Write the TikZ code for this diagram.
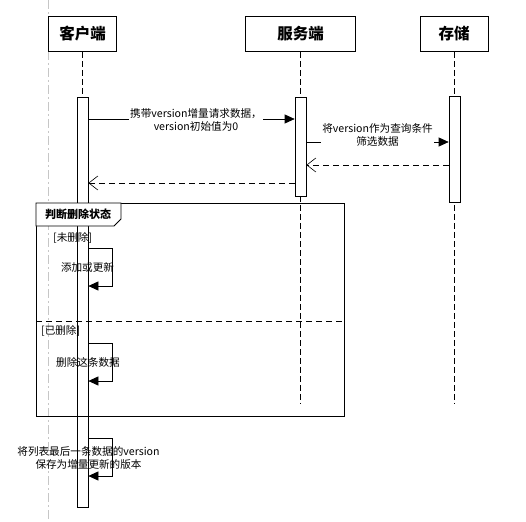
\documentclass[tikz,border=0pt]{standalone}
\usepackage{fontspec}
\setmainfont{Noto Sans CJK SC}
\usetikzlibrary{arrows.meta}
\tikzset{
  actorbox/.style={draw, line width=0.9pt, minimum height=35pt, inner sep=0pt, font=\bfseries\fontsize{15.5}{17}\selectfont},
  actbar/.style={draw, fill=white, line width=0.7pt, minimum width=11pt, inner sep=0pt},
  lifeline/.style={line width=0.6pt, dash pattern=on 6pt off 3pt},
  msg/.style={line width=0.7pt, -{Triangle[length=10pt,width=9pt]}},
  ret/.style={line width=0.6pt, dash pattern=on 6pt off 4pt, -{Straight Barb[length=9pt,width=14pt,line width=0.6pt]}},
  lbl/.style={fill=white, inner sep=1pt, align=center, font=\fontsize{10.6}{13}\selectfont},
  guard/.style={inner sep=0pt, font=\fontsize{10.6}{12}\selectfont},
}
\begin{document}
\begin{tikzpicture}[x=1pt,y=-1pt]
\useasboundingbox (0,0) rectangle (526,521);
% light guide line
\draw[gray!45, line width=0.6pt, dash pattern=on 9pt off 3pt on 2pt off 3pt] (48.5,0) coordinate (g1) -- (48.5,521) coordinate (g2);

% actor boxes
\node[actorbox, minimum width=68pt] (client) at (82.5,34) {客户端};
\node[actorbox, minimum width=110pt] (server) at (300.5,34) {服务端};
\node[actorbox, minimum width=68pt] (store) at (454,34) {存储};

% lifelines
\coordinate (cend) at (82.5,508);
\coordinate (send) at (300.5,404);
\coordinate (tend) at (454,404);
\draw[lifeline] (client.south) -- (cend);
\draw[lifeline] (server.south) -- (send);
\draw[lifeline] (store.south) -- (tend);

% activation bars
\node[actbar, minimum height=410pt] (ca) at (82.5,302) {};
\node[actbar, minimum height=99pt] (sa2) at (300.5,146.5) {};
\node[actbar, minimum height=106pt] (ta) at (454.5,149) {};

% frame
\draw[line width=0.8pt] (36,203) coordinate (fa) rectangle (344,416) coordinate (fb);
\draw[line width=0.8pt, fill=white] (36,203) -- (121,203) -- (121,219) -- (114,226) -- (36,226) -- cycle;
\node[inner sep=0pt, font=\bfseries\fontsize{11}{12}\selectfont] (ftitle) at (78,214.5) {判断删除状态};
\draw[line width=0.7pt, dash pattern=on 6pt off 4pt] (36,321) coordinate (sa) -- (344,321) coordinate (sb);
\node[guard, anchor=west] (g1t) at (53,238) {[未删除]};
\node[guard, anchor=west] (g2t) at (41,331) {[已删除]};

% messages
\draw[msg] (ca.east |- 0,119) -- (sa2.west |- 0,119);
\node[lbl] (m1) at (196,119.5) {携带version增量请求数据，\\version初始值为0};
\draw[msg] (sa2.east |- 0,142) -- (ta.west |- 0,142);
\node[lbl] (m2) at (377.5,135) {将version作为查询条件\\筛选数据};
\draw[ret] (ta.west |- 0,165) -- (sa2.east |- 0,165);
\draw[ret] (sa2.west |- 0,183) -- (ca.east |- 0,183);

% self messages
\coordinate (s1a) at (112,248);
\coordinate (s1b) at (112,286);
\draw[msg] (ca.east |- s1a) -- (s1a) -- (s1b) -- (ca.east |- s1b);
\node[lbl, fill=none] (m3) at (87.5,267) {添加或更新};

\coordinate (s2a) at (112,343);
\coordinate (s2b) at (112,381);
\draw[msg] (ca.east |- s2a) -- (s2a) -- (s2b) -- (ca.east |- s2b);
\node[lbl, fill=none] (m4) at (88,362) {删除这条数据};

\coordinate (s3a) at (112,438);
\coordinate (s3b) at (112,476);
\draw[msg] (ca.east |- s3a) -- (s3a) -- (s3b) -- (ca.east |- s3b);
\node[lbl, fill=none] (m5) at (88.5,457.5) {将列表最后一条数据的version\\保存为增量更新的版本};
\end{tikzpicture}
\end{document}
